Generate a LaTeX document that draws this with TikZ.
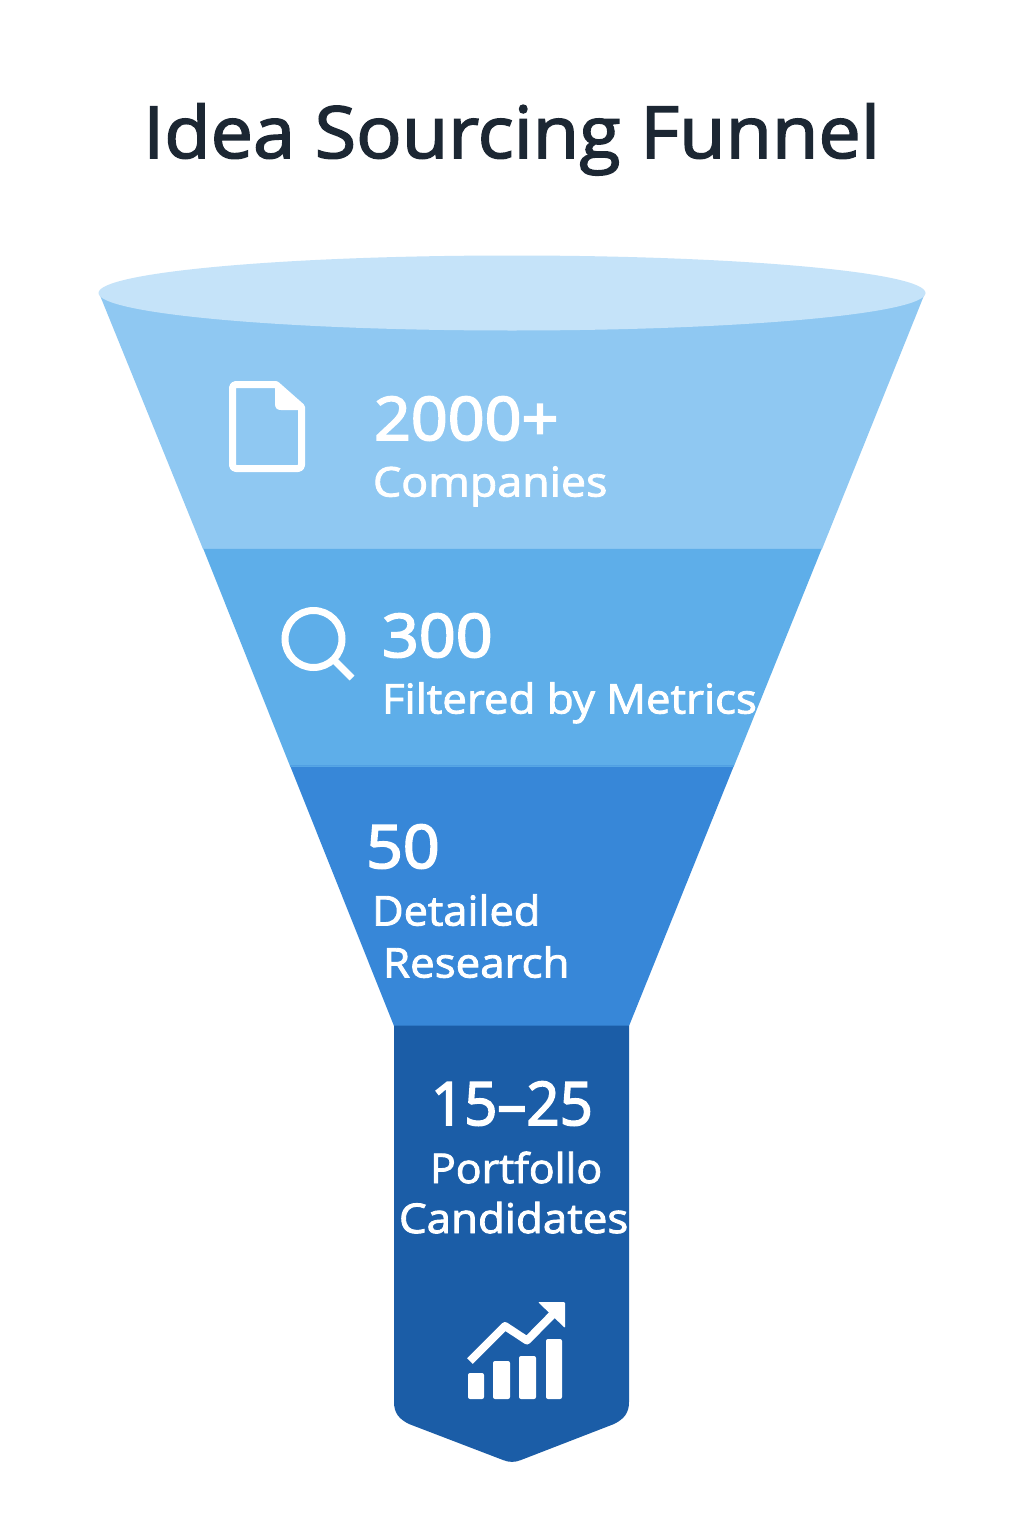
\documentclass[tikz,border=0pt]{standalone}
\usepackage{fontspec}
\usepackage{graphicx}
\setmainfont{Open Sans}
\newfontfamily\titlefont{Open Sans}[FakeBold=2.2,FakeStretch=1.05]
\newfontfamily\numfont{Open Sans}[FakeBold=3,FakeStretch=1.075]
\newfontfamily\labfont{Open Sans}[FakeBold=2.2,FakeStretch=1.07]
\usetikzlibrary{calc}
\definecolor{rimc}{HTML}{C5E3F9}
\definecolor{ca}{HTML}{8FC8F2}
\definecolor{cb}{HTML}{5EAEE9}
\definecolor{cc}{HTML}{3787D8}
\definecolor{cd}{HTML}{1B5DA7}
\definecolor{titlec}{HTML}{1C2733}
\tikzset{
  x=1pt,y=-1pt,
  num/.style={anchor=base west,inner sep=0pt,outer sep=0pt,text=white,font=\fontsize{60}{60}\selectfont\numfont},
  lab/.style={anchor=base west,inner sep=0pt,outer sep=0pt,text=white,font=\fontsize{41}{41}\selectfont\labfont},
  icon/.style={draw=white,line width=7pt,fill=none,line join=round},
}
\begin{document}
\begin{tikzpicture}
\useasboundingbox (0,0) rectangle (1024,1536);
\fill[white] (0,0) rectangle (1024,1536);
% funnel bands
\fill[ca] (99,293) -- (203,549) -- (822,549) -- (925,293) -- cycle;
\fill[cb] (203,548) -- (290,766) -- (734,766) -- (822,548) -- cycle;
\fill[cc] (290,765.5) -- (394,1026) -- (629,1026) -- (734,765.5) -- cycle;
\fill[cd] (394,1025.5) -- (394,1402)
   .. controls (394,1413) and (399,1419) .. (409,1424)
   -- (503,1460) .. controls (509,1462.5) and (515,1462.5) .. (521,1460)
   -- (614,1424) .. controls (624,1419) and (629,1413) .. (629,1402)
   -- (629,1025.5) -- cycle;
\draw[ca!85!cb,line width=1pt] (203,548.5) -- (822,548.5);
\draw[cb!80!cc,line width=1pt] (290,766) -- (734,766);
% rim
\fill[rimc] (512,293) ellipse [x radius=413.5,y radius=37.5];
% title
\node[anchor=base west,inner sep=0pt,text=titlec,font=\fontsize{72}{72}\selectfont\titlefont] (title) at (143,158)
  {Idea Sourcing Funnel};
% band 1
\node[num] (n1) at (374,440) {2000+};
\node[lab] (l1) at (373,496.5) {\scalebox{1.02}[1]{Companies}};
% band 2
\node[num] (n2) at (382,657) {300};
\node[lab] (l2) at (382,713.5) {Filtered by Metrics};
% band 3
\node[num] (n3) at (366,868) {50};
\node[lab] (l3a) at (372,925.5) {\scalebox{0.99}[1]{Detailed}};
\node[lab] (l3b) at (383,977.5) {Research};
% band 4
\node[num] (n4) at (431,1125) {\scalebox{0.9}[1]{15–25}};
\node[lab] (l4a) at (430,1183) {\scalebox{0.977}[1]{Portfollo}};
\node[lab] (l4b) at (399,1233) {Candidates};
% document icon
\draw[icon] (276,384.5) -- (236,384.5)
  .. controls (234,384.5) and (232.5,386) .. (232.5,388)
  -- (232.5,465) .. controls (232.5,467) and (234,468.5) .. (236,468.5)
  -- (298,468.5) .. controls (300,468.5) and (301.5,467) .. (301.5,465)
  -- (301.5,407) -- cycle;
\fill[white] (275,384) -- (275,404) .. controls (275,408) and (277,410) .. (281,410)
  -- (304,410) -- (279,384) -- cycle;
% magnifier icon
\draw[draw=white,line width=7pt] (313.5,639) circle [radius=28.5];
\draw[draw=white,line width=7pt] (334,660) -- (352,678);
% chart icon
\fill[white,rounded corners=2pt] (468,1373) rectangle (484,1399);
\fill[white,rounded corners=2pt] (493,1361) rectangle (510,1399);
\fill[white,rounded corners=2pt] (519,1356) rectangle (536,1399);
\fill[white,rounded corners=2pt] (546,1339) rectangle (562,1399);
\draw[white,line width=8pt,line join=round] (470,1361) -- (505,1326) -- (527,1340.5) -- (556,1311);
\fill[white,rounded corners=1pt] (538,1302) -- (565,1302) -- (565,1328) -- cycle;
\end{tikzpicture}
\end{document}
